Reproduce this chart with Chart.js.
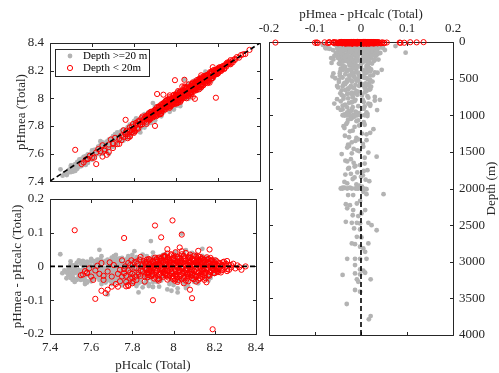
<!DOCTYPE html>
<html>
<head>
<meta charset="utf-8">
<script src="https://cdn.jsdelivr.net/npm/chart.js@4.4.0/dist/chart.umd.min.js"></script>
<style>
body { margin: 0; background: #fff; }
#wrap { position: relative; width: 499px; height: 373px; overflow: hidden; }
canvas { position: absolute; }
</style>
</head>
<body>
<div id="wrap">
  <canvas id="top" width="270" height="195" style="left:0px;top:0px"></canvas>
  <canvas id="bottom" width="270" height="188" style="left:0px;top:185px"></canvas>
  <canvas id="depth" width="249" height="373" style="left:250px;top:0px"></canvas>
</div>
<script>
// samples: [pHcalc, pHmea - pHcalc, depth (m)]
const deepUpper = [
  [8.05,-0.012,25],[8.12,0.008,30],[7.98,-0.031,35],[8.15,0.015,40],[8.02,-0.045,45],[8.08,0.022,50],[7.95,-0.02,55],[8.18,0.004,60],[8.1,-0.038,65],[7.92,0.028,70],
  [8.2,-0.006,75],[8.0,0.012,80],[7.88,-0.052,85],[8.14,0.031,90],[8.06,-0.025,95],[7.97,0.002,100],[8.22,-0.015,105],[7.9,-0.061,110],[8.11,0.035,115],[8.03,-0.008,120],
  [7.86,0.018,125],[8.16,-0.03,130],[7.94,0.03,135],[8.07,-0.048,140],[8.04,0.097,146],[7.89,0.075,55],[7.83,-0.077,73],[8.01,0.042,150],[8.09,-0.018,155],[7.93,0.01,160],
  [8.17,-0.042,165],[7.96,-0.005,170],[8.04,0.025,175],[7.89,-0.035,180],[8.12,0.006,185],[7.82,-0.058,190],[8.0,0.032,195],[8.08,-0.028,200],[7.91,0.015,205],[8.15,-0.01,210],
  [7.84,0.022,215],[8.02,-0.065,220],[7.98,0.02,225],[8.19,-0.022,230],[7.87,-0.04,235],[8.05,0.038,240],[7.95,-0.015,245],[8.1,0.01,250],[7.8,-0.05,62],[8.06,0.048,82],
  [7.97,-0.068,92],[8.14,-0.002,22],[8.01,0.02,28],[7.9,-0.026,33],[8.07,-0.056,38],[8.11,0.03,43],[7.94,-0.042,48],[8.17,0.012,53],[8.03,-0.035,58],[7.86,0.005,68],
  [8.09,0.04,78],[7.99,-0.072,88],[8.13,-0.02,98],[7.92,-0.032,108],[8.04,0.016,118],[8.2,0.02,128],[7.83,-0.045,138],[8.0,-0.055,148],[8.16,0.026,158],[7.96,0.036,168],
  [8.08,-0.008,178],[7.88,0.012,188],[8.12,-0.05,198],[8.02,0.005,208],[7.81,-0.03,218],[8.05,-0.04,228],[7.93,-0.06,238],[8.18,-0.034,248],[7.97,0.028,258],[8.1,-0.024,268],
  [7.85,-0.012,278],[8.03,0.018,288],[7.9,-0.046,298],[8.15,0.004,275],[8.06,-0.064,285],[7.94,0.024,295],[8.0,-0.02,265],[8.11,-0.045,255],[7.87,0.03,245],[8.14,0.052,110],
  [8.02,-0.077,86],[7.68,-0.083,40]
];
const deepMid = [
  [7.47,-0.012,310],[7.5,-0.025,320],[7.52,-0.006,330],[7.48,-0.035,340],[7.55,-0.018,350],[7.53,-0.04,360],[7.58,-0.01,370],[7.6,-0.028,380],[7.62,0.005,390],[7.57,-0.045,400],
  [7.64,-0.02,410],[7.66,0.012,420],[7.9,-0.06,427],[7.68,-0.034,440],[7.7,-0.005,450],[7.72,0.02,460],[7.65,-0.015,470],[7.74,-0.042,480],[7.76,0.008,490],[7.69,-0.025,500],
  [7.78,0.015,510],[7.71,-0.048,520],[7.8,-0.01,530],[7.75,0.025,540],[7.82,-0.032,550],[7.77,-0.002,560],[7.84,0.018,570],[7.79,-0.038,580],[7.86,0.003,590],[7.81,-0.022,600],
  [7.88,0.022,610],[7.83,-0.05,620],[7.9,-0.015,630],[7.85,0.01,640],[7.92,-0.028,650],[7.87,-0.042,660],[7.94,0.012,670],[7.89,-0.006,680],[7.46,-0.02,690],[7.51,-0.014,700],
  [7.54,-0.03,710],[7.49,-0.008,720],[7.56,0.002,730],[7.61,-0.038,740],[7.59,-0.018,750],[7.67,0.016,760],[7.73,-0.028,770],[7.7,-0.052,780],[7.75,-0.012,790],[7.78,0.03,800],
  [7.8,-0.044,810],[7.83,0.006,820],[7.86,-0.026,830],[7.88,-0.058,840],[7.91,0.02,850],[7.93,-0.035,860],[7.64,-0.04,870],[7.69,0.008,880],[7.72,-0.018,890],[7.76,-0.05,900],
  [7.79,0.004,910],[7.82,-0.02,920],[7.85,0.035,930],[7.58,-0.026,940],[7.62,-0.012,950],[7.66,-0.03,960],[7.7,-0.004,970],[7.74,0.014,980],[7.77,-0.036,990],[7.81,-0.016,995],
  [7.6,-0.04,1000],[7.65,-0.032,1000],[7.7,-0.024,1000],[7.75,-0.016,1005],[7.8,-0.008,1000],[7.85,0.0,1005],[7.9,0.008,1000],[7.68,0.014,1010],[7.73,-0.036,1005],[7.78,-0.028,1000],
  [7.5,0.015,335],[7.55,0.012,355],[7.6,0.022,375],[7.65,0.03,415],[7.7,0.026,455],[7.75,-0.056,495],[7.81,0.045,380],[7.85,-0.062,470],[7.9,0.041,790],[7.95,-0.03,540],
  [7.57,-0.052,600],[7.63,0.018,650],[7.67,-0.045,700],[7.71,0.03,750],[7.76,-0.02,820],[7.8,0.02,870],[7.84,-0.04,920],[7.88,-0.01,960],[7.92,0.004,580],[7.45,0.036,420]
];
const deepFill = [
  [7.5,-0.02,22],[7.52,0.004,26],[7.54,-0.034,31],[7.56,-0.01,36],[7.58,0.014,41],[7.6,-0.044,46],[7.62,-0.024,51],[7.64,0.0,56],[7.66,-0.016,61],[7.68,0.02,66],
  [7.7,-0.036,71],[7.72,-0.008,76],[7.74,0.01,81],[7.76,-0.028,86],[7.78,-0.05,91],[7.8,0.002,96],[7.82,-0.018,101],[7.84,0.024,106],[7.86,-0.032,111],[7.88,-0.004,116],
  [7.51,-0.03,121],[7.53,-0.016,127],[7.55,0.008,133],[7.57,-0.04,139],[7.59,-0.022,145],[7.61,0.016,151],[7.63,-0.006,157],[7.65,-0.052,163],[7.67,-0.03,169],[7.69,0.006,175],
  [7.71,-0.014,181],[7.73,0.022,187],[7.75,-0.044,193],[7.77,-0.02,199],[7.79,0.012,205],[7.81,-0.008,211],[7.83,-0.038,217],[7.85,0.016,223],[7.87,-0.024,229],[7.89,0.002,235],
  [7.5,-0.004,255],[7.52,-0.038,265],[7.54,0.018,275],[7.56,-0.026,285],[7.58,-0.048,295],[7.6,0.0,305],[7.62,-0.018,315],[7.64,0.012,325],[7.66,-0.036,335],[7.68,-0.01,345],
  [7.7,0.018,355],[7.72,-0.044,365],[7.74,-0.022,375],[7.76,0.004,385],[7.78,-0.03,395],[7.8,0.014,405],[7.82,-0.012,415],[7.84,-0.046,425],[7.86,0.008,435],[7.88,-0.02,445],
  [7.49,-0.026,455],[7.51,0.002,465],[7.53,-0.016,475],[7.55,-0.04,485],[7.57,0.012,495],[7.59,-0.006,505],[7.61,-0.03,515],[7.63,0.02,525],[7.65,-0.02,535],[7.67,-0.048,545],
  [7.69,-0.002,555],[7.71,0.01,565],[7.73,-0.034,575],[7.75,-0.012,585],[7.77,0.016,595],[7.79,-0.04,605],[7.81,-0.02,615],[7.83,0.008,625],[7.85,-0.028,635],[7.87,0.02,645],
  [7.5,-0.034,655],[7.54,-0.01,672],[7.58,0.008,689],[7.62,-0.022,706],[7.66,-0.042,723],[7.7,0.014,740],[7.74,-0.018,757],[7.78,-0.038,774],[7.82,0.004,791],[7.86,-0.014,808],
  [7.52,-0.02,825],[7.56,0.016,842],[7.6,-0.034,859],[7.64,-0.006,876],[7.68,-0.03,893],[7.72,0.006,910],[7.76,-0.044,927],[7.8,-0.022,944],[7.84,0.012,961],[7.88,-0.03,978],
  [7.9,0.028,24],[7.93,-0.038,34],[7.96,0.024,44],[7.99,-0.044,54],[8.02,0.032,64],[8.05,-0.05,74],[8.08,0.026,84],[8.11,-0.036,94],[8.14,0.018,104],[8.17,-0.03,114],
  [7.92,-0.046,124],[7.95,0.034,134],[7.98,-0.052,144],[8.01,0.026,154],[8.04,-0.04,164],[8.07,0.03,174],[8.1,-0.046,184],[8.13,0.022,194],[8.16,-0.036,204],[8.19,0.014,214]
];
const deepFill2 = [
  [7.49,-0.014,23],[7.53,0.01,29],[7.57,-0.028,34],[7.61,-0.006,39],[7.65,0.018,44],[7.69,-0.042,49],[7.73,-0.016,54],[7.77,0.006,59],[7.81,-0.034,64],[7.85,-0.002,69],
  [7.51,-0.04,74],[7.55,-0.02,79],[7.59,0.002,84],[7.63,-0.032,89],[7.67,0.01,94],[7.71,-0.024,99],[7.75,-0.048,104],[7.79,0.016,109],[7.83,-0.01,114],[7.87,-0.04,119],
  [7.5,0.006,130],[7.54,-0.024,140],[7.58,-0.044,150],[7.62,0.008,160],[7.66,-0.012,170],[7.7,-0.03,180],[7.74,0.024,190],[7.78,-0.008,200],[7.82,0.01,210],[7.86,-0.05,220],
  [7.52,-0.01,240],[7.56,-0.032,260],[7.6,0.014,280],[7.64,-0.024,300],[7.68,-0.04,320],[7.72,0.0,340],[7.76,-0.016,360],[7.8,-0.038,380],[7.84,0.02,400],[7.88,-0.006,420],
  [7.48,-0.018,440],[7.52,-0.046,460],[7.56,0.004,480],[7.6,-0.012,500],[7.64,0.02,520],[7.68,-0.02,540],[7.72,-0.036,560],[7.76,0.012,580],[7.8,-0.004,600],[7.84,-0.024,620]
];
const deepLower = [
  [7.62,-0.02,1040],[7.7,-0.006,1070],[7.66,-0.03,1100],[7.74,0.008,1130],[7.78,-0.014,1160],[7.82,0.027,1190],[7.68,-0.024,1220],[7.72,0.002,1250],[7.76,-0.035,1280],[7.8,-0.01,1310],
  [7.64,0.012,1340],[7.84,-0.02,1370],[7.7,-0.028,1400],[7.74,0.005,1430],[7.6,-0.016,1460],[7.86,-0.004,1490],[7.78,-0.042,1530],[7.72,0.034,1565],[7.66,-0.022,1600],[7.82,-0.03,1630],
  [7.7,0.008,1660],[7.76,-0.012,1690],[7.62,-0.026,1720],[7.8,0.014,1750],[7.68,-0.008,1780],[7.74,-0.034,1810],[7.84,0.0,1840],[7.64,-0.018,1870],[7.78,0.018,1900],[7.72,-0.03,1930],
  [7.66,-0.004,1960],[7.7,-0.04,1990],[7.74,-0.03,2000],[7.78,-0.02,2000],[7.82,-0.012,2000],[7.86,-0.006,2000],[7.76,0.002,2000],[7.8,0.01,2005],[7.68,-0.036,1990],[7.72,0.012,2010],
  [7.63,-0.01,1080],[7.75,-0.038,1150],[7.81,0.02,1240],[7.67,-0.006,1330],[7.79,-0.026,1420],[7.71,0.016,1510],[7.85,-0.014,1700],[7.69,0.004,1820],[7.77,-0.022,1050],[7.83,-0.032,1120],
  [7.65,-0.014,1020],[7.73,-0.028,1060],[7.69,0.006,1095],[7.77,-0.004,1140],[7.61,-0.036,1175],[7.81,-0.018,1210],[7.71,0.012,1260],[7.75,-0.026,1300],[7.67,-0.012,1350],[7.83,0.004,1390],
  [7.63,-0.03,1440],[7.79,-0.008,1480],[7.7,-0.02,1520],[7.76,0.008,1580],[7.66,-0.034,1620],[7.84,-0.016,1650],[7.72,-0.002,1680],[7.78,-0.028,1730],[7.64,0.006,1760],[7.82,-0.022,1800],
  [7.68,-0.014,1850],[7.74,0.01,1880],[7.8,-0.036,1910],[7.7,-0.01,1945],[7.86,0.002,1975],[7.62,-0.024,1990],[7.76,-0.04,2000],[7.72,-0.008,2000],[7.84,0.004,1995],[7.78,-0.044,2000]
];
const deepAbyss = [
  [7.64,0.049,2077],[7.78,-0.028,2090],[7.82,-0.017,2090],[7.74,0.012,2077],[7.86,0.005,2045],
  [7.72,-0.033,2215],[7.8,-0.024,2227],[7.84,-0.009,2205],[7.76,-0.002,2170],[7.88,-0.03,2270],
  [7.73,-0.017,2295],[7.81,0.009,2295],[7.77,0.001,2340],[7.85,-0.018,2365],[7.79,-0.006,2377],
  [7.75,-0.033,2455],[7.83,-0.02,2468],[7.71,-0.009,2468],[7.87,-0.002,2477],[7.78,0.016,2468],
  [7.82,0.023,2500],[7.74,-0.015,2545],[7.86,-0.002,2560],[7.8,0.034,2570],[7.76,-0.009,2660],
  [7.84,0.001,2668],[7.72,-0.02,2750],[7.79,-0.013,2760],[7.83,0.016,2750],[7.77,-0.002,2795],
  [7.85,0.005,2818],[7.81,0.009,2864],[7.73,-0.03,2960],[7.78,-0.013,2960],[7.88,0.012,2960],
  [7.75,-0.002,2960],[7.82,-0.013,3045],[7.86,-0.002,3105],[7.76,0.005,3122],[7.8,-0.04,3180],
  [7.84,-0.013,3160],[7.74,-0.002,3173],[7.79,0.009,3150],[7.83,-0.009,3240],[7.77,0.021,3240],
  [7.85,-0.006,3273],[7.81,-0.013,3386],[7.78,-0.002,3409],[7.82,-0.031,3577],[7.8,0.021,3741],
  [7.84,0.017,3786]
];
const shallowCore = [
  [7.95,0.012,5],[8.02,-0.018,10],[8.08,0.025,2],[7.99,-0.005,15],[8.11,-0.028,8],[7.91,0.004,3],[8.05,0.031,12],[8.14,-0.012,6],[8.0,-0.033,18],[7.97,0.021,9],
  [8.06,0.002,4],[8.17,0.011,11],[7.93,-0.022,7],[8.03,0.015,14],[8.09,-0.035,1],[7.89,0.009,16],[8.12,0.019,5],[8.01,-0.011,13],[7.96,0.028,8],[8.07,-0.024,2],
  [8.19,-0.006,10],[7.98,-0.028,6],[8.04,0.036,3],[8.1,0.006,17],[7.92,-0.014,9],[8.15,-0.021,4],[8.0,0.024,12],[8.06,-0.042,7],[7.94,0.017,15],[8.13,0.028,1],
  [8.02,0.003,11],[7.9,-0.026,5],[8.08,-0.008,14],[8.16,0.004,8],[7.97,-0.039,2],[8.11,0.013,18],[8.03,-0.029,6],[7.99,0.033,10],[8.05,-0.016,3],[8.2,0.008,13],
  [7.87,-0.008,9],[8.09,0.022,4],[8.01,0.042,16],[8.14,-0.031,7],[7.96,-0.02,1],[8.07,0.011,12],[8.18,-0.017,5],[7.93,0.026,15],[8.04,-0.004,8],[8.12,-0.04,2],
  [8.0,0.007,11],[7.95,-0.031,6],[8.1,0.032,14],[8.06,0.016,3],[8.15,0.02,10],[7.88,-0.018,17],[8.02,-0.046,4],[8.08,-0.02,9],[7.98,0.004,13],[8.22,-0.004,7],
  [8.13,-0.002,1],[7.92,0.019,12],[8.05,0.024,5],[8.17,-0.026,15],[7.99,-0.014,8],[8.11,-0.045,3],[8.03,0.01,11],[7.94,-0.006,16],[8.09,0.004,6],[8.24,0.002,10],
  [7.97,0.038,2],[8.01,-0.024,14],[8.15,0.013,7],[8.07,-0.03,12],[7.9,0.014,4],[8.12,0.005,18],[8.04,-0.036,9],[8.19,0.015,1],[7.96,-0.011,13],[8.26,-0.008,6],
  [8.06,0.04,10],[8.0,-0.004,3],[8.1,-0.014,15],[7.93,-0.036,8],[8.16,-0.009,11],[8.02,0.029,5],[7.89,-0.002,16],[8.08,0.035,2],[8.13,-0.036,13],[8.21,0.006,7],
  [8.05,-0.05,12],[7.98,0.015,4],[8.14,0.024,9],[8.03,-0.012,17],[7.91,-0.01,6],[8.09,-0.026,1],[8.18,0.001,14],[8.0,0.018,8],[8.11,0.029,3],[8.28,-0.003,11],
  [7.95,0.03,5],[8.07,0.006,15],[8.23,-0.012,10],[8.02,0.022,2],[8.15,-0.04,7],[7.97,-0.025,13],[8.12,-0.019,4],[8.04,0.045,16],[8.17,0.022,9],[7.92,0.001,6],
  [8.1,0.018,12],[7.99,0.009,1],[8.06,-0.008,14],[8.25,0.006,8],[8.01,-0.038,3],[8.13,0.012,11],[7.94,0.024,5],[8.08,0.013,17],[8.2,-0.02,10],[7.96,0.005,2]
];
const shallowDense = [
  [7.861,-0.004,3],[7.873,-0.018,11],[7.885,0.006,7],[7.897,-0.024,15],[7.909,0.002,1],[7.921,-0.012,9],[7.933,0.016,17],[7.945,-0.027,5],[7.957,0.001,13],[7.969,-0.013,2],
  [7.981,0.019,10],[7.993,-0.021,18],[8.005,0.008,6],[8.017,-0.031,14],[8.029,0.004,0],[8.041,-0.007,8],[8.053,0.021,16],[8.065,-0.024,4],[8.077,0.011,12],[8.089,-0.01,19],
  [8.101,0.016,3],[8.113,-0.017,11],[8.125,0.003,7],[8.137,-0.022,15],[8.149,0.009,1],[8.161,-0.004,9],[8.173,0.01,17],[8.185,-0.012,5],[8.197,0.005,13],[8.209,-0.006,2],
  [7.867,-0.011,6],[7.879,0.003,14],[7.891,-0.029,2],[7.903,0.011,10],[7.915,-0.019,18],[7.927,-0.003,4],[7.939,0.022,12],[7.951,-0.016,0],[7.963,0.009,8],[7.975,-0.033,16],
  [7.987,0.003,5],[7.999,0.025,13],[8.011,-0.014,1],[8.023,0.013,9],[8.035,-0.026,17],[8.047,0.0,3],[8.059,-0.018,11],[8.071,0.018,7],[8.083,-0.03,15],[8.095,0.006,19],
  [8.107,-0.009,6],[8.119,0.014,14],[8.131,-0.014,2],[8.143,0.001,10],[8.155,-0.018,18],[8.167,0.012,4],[8.179,-0.003,12],[8.191,0.008,0],[8.203,-0.011,8],[8.215,0.002,16],
  [7.864,0.008,9],[7.876,-0.026,1],[7.888,-0.008,17],[7.9,0.017,5],[7.912,-0.031,13],[7.924,0.007,3],[7.936,-0.017,11],[7.948,0.012,19],[7.96,-0.022,7],[7.972,0.027,15],
  [7.984,-0.008,0],[7.996,-0.037,8],[8.008,0.017,16],[8.02,-0.004,4],[8.032,0.026,12],[8.044,-0.02,2],[8.056,0.008,10],[8.068,-0.035,18],[8.08,0.002,6],[8.092,0.023,14],
  [8.104,-0.024,9],[8.116,0.005,1],[8.128,0.018,17],[8.14,-0.009,5],[8.152,-0.027,13],[8.164,0.02,3],[8.176,-0.016,11],[8.188,0.0,19],[8.2,0.012,7],[8.212,-0.014,15],
  [7.87,0.014,12],[7.882,-0.01,4],[7.894,0.001,16],[7.906,-0.036,8],[7.918,0.022,0],[7.93,-0.025,14],[7.942,-0.005,6],[7.954,0.028,18],[7.966,-0.028,10],[7.978,0.011,2],
  [7.99,-0.016,13],[8.002,0.032,5],[8.014,-0.023,17],[8.026,-0.011,9],[8.038,0.017,1],[8.05,-0.034,15],[8.062,0.004,7],[8.074,0.026,19],[8.086,-0.016,11],[8.098,-0.038,3],
  [8.11,0.009,12],[8.122,-0.028,4],[8.134,0.022,16],[8.146,-0.013,8],[8.158,0.005,0],[8.17,-0.024,14],[8.182,0.016,6],[8.194,-0.019,18],[8.206,0.0,10],[8.218,0.009,2],
  [7.862,0.012,15],[7.874,-0.032,7],[7.886,0.018,19],[7.898,-0.006,11],[7.91,0.026,3],[7.922,-0.038,13],[7.934,0.005,5],[7.946,-0.009,17],[7.958,0.031,9],[7.97,-0.004,1],
  [7.982,-0.026,16],[7.994,0.012,8],[8.006,-0.042,0],[8.018,0.027,12],[8.03,-0.017,4],[8.042,0.012,18],[8.054,-0.03,10],[8.066,-0.006,2],[8.078,0.029,14],[8.09,-0.022,6],
  [8.102,0.0,15],[8.114,0.024,7],[8.126,-0.035,19],[8.138,0.012,11],[8.15,-0.006,3],[8.162,0.027,13],[8.174,-0.028,5],[8.186,0.019,17],[8.198,-0.02,9],[8.21,0.015,1],
  [7.868,-0.02,18],[7.88,0.022,10],[7.892,-0.014,2],[7.904,-0.002,14],[7.916,0.013,6],[7.928,-0.042,16],[7.94,0.001,8],[7.952,-0.02,0],[7.964,0.018,12],[7.976,-0.015,4],
  [7.988,0.036,19],[8.0,-0.029,11],[8.012,0.002,3],[8.024,-0.04,15],[8.036,0.009,7],[8.048,0.03,17],[8.06,-0.012,9],[8.072,-0.044,1],[8.084,0.014,13],[8.096,-0.003,5],
  [8.108,-0.031,18],[8.12,0.03,10],[8.132,-0.005,2],[8.144,0.019,14],[8.156,-0.035,6],[8.168,-0.008,16],[8.18,0.025,8],[8.192,-0.008,0],[8.204,0.018,12],[8.216,-0.017,4],
  [7.78,-0.012,5],[7.79,0.004,13],[7.8,-0.022,1],[7.81,0.012,9],[7.815,-0.03,17],[7.82,-0.006,3],[7.825,0.008,11],[7.83,-0.018,19],[7.835,0.02,7],[7.84,-0.028,15],
  [7.845,0.0,0],[7.85,-0.014,8],[7.855,0.016,16],[7.79,-0.036,4],[7.805,-0.044,12],[7.795,0.018,2],[7.76,-0.02,10],[7.765,0.0,18],[7.75,-0.03,6],[7.77,-0.046,14],
  [8.22,-0.008,9],[8.225,0.01,1],[8.23,-0.018,17],[8.235,0.004,5],[8.24,-0.01,13],[8.245,0.014,3],[8.25,-0.003,11],[8.255,0.008,19],[8.26,-0.014,7],[8.27,0.004,15]
];
const shallowLow = [
  [7.56,-0.024,5],[7.58,-0.018,10],[7.6,-0.03,3],[7.62,-0.012,12],[7.64,-0.022,8],[7.66,-0.04,15],[7.68,-0.015,2],[7.7,-0.03,11],[7.71,0.004,6],[7.73,-0.022,14],
  [7.74,-0.044,4],[7.76,-0.008,9],[7.77,-0.028,16],[7.78,0.01,1],[7.79,-0.018,13],[7.8,-0.034,7],[7.81,-0.004,10],[7.82,0.014,3],[7.83,-0.024,12],[7.84,-0.012,5],
  [7.85,0.006,15],[7.86,-0.03,8],[7.87,0.02,2],[7.72,-0.052,11],[7.69,0.012,6],[7.63,0.002,14],[7.59,-0.006,4],[7.75,0.018,9],[7.8,-0.05,17],[7.84,0.028,1],
  [7.86,-0.045,13],[7.88,-0.025,7],[7.82,-0.04,10],[7.78,-0.055,3],[7.66,-0.028,12],[7.74,-0.01,5],[7.61,-0.04,16],[7.7,-0.06,8],[7.57,-0.014,2],[7.65,0.01,11]
];
const shallowHigh = [
  [8.28,0.004,4],[8.3,-0.006,9],[8.32,-0.002,14],[8.35,0.0,6],[8.27,-0.01,12],[8.29,0.008,3],[8.24,0.012,15],[8.33,-0.01,1],[8.26,0.016,8],[8.31,0.003,10]
];
const shallowOutliers = [
  [7.52,0.107,3],[7.76,0.084,8],[7.91,0.121,5],[7.94,0.086,12],[7.995,0.136,2],[8.04,0.094,10],[8.03,0.056,7],[7.97,0.051,14],
  [8.12,0.046,4],[8.175,0.05,11],[7.62,-0.096,6],[7.9,-0.1,9],[8.09,-0.094,13],[8.08,-0.069,1],[8.19,-0.186,8],[7.65,-0.072,15],
  [7.67,-0.079,5],[7.68,-0.069,10],[7.77,-0.059,3],[7.78,-0.058,12],[7.73,-0.06,7],[8.16,-0.047,6],[7.55,-0.026,2],[7.58,-0.02,9]
];

const pHRange = [7.4, 8.4];
const diffRange = [-0.2, 0.2];
const depthRange = [0, 4000];
const pHTicks = 0.2, diffTicks = 0.1, depthTicks = 500;
const legendLabels = ['Depth >=20 m', 'Depth < 20m'];

const deep = [...deepUpper, ...deepMid, ...deepFill, ...deepFill2, ...deepLower, ...deepAbyss];
const shallow = [...shallowCore, ...shallowDense, ...shallowLow, ...shallowHigh, ...shallowOutliers];

const FONT = 'Liberation Serif';
const AXIS = '#262626';
const GRAY = '#b3b3b3';
const RED = '#ff0000';
Chart.defaults.font.family = FONT;
Chart.defaults.font.size = 13;
Chart.defaults.color = AXIS;

const fmt = v => String(+v.toFixed(2));

const grayStyle = { pointRadius: 2.4, pointBackgroundColor: GRAY, pointBorderWidth: 0, order: 2, clip: false };
const redStyle = { pointRadius: 2.6, pointBackgroundColor: 'rgba(0,0,0,0)', pointBorderColor: RED, pointBorderWidth: 1.0, order: 1, clip: false };
const dashStyle = { showLine: true, borderColor: '#000', borderWidth: 1.6, borderDash: [5, 3], pointRadius: 0, order: 0 };

// box around the plot with inward ticks on all four sides
const boxTicks = {
  id: 'boxTicks',
  beforeDatasetsDraw(chart) {
    const { ctx, chartArea: a, scales } = chart;
    const L = 3.5;
    const l = Math.round(a.left) + 0.5, r = Math.round(a.right) + 0.5;
    const t = Math.round(a.top) + 0.5, b = Math.round(a.bottom) + 0.5;
    ctx.save();
    ctx.strokeStyle = AXIS;
    ctx.lineWidth = 1;
    ctx.beginPath();
    ctx.rect(l, t, r - l, b - t);
    for (const s of Object.values(scales)) {
      for (const tk of s.ticks) {
        const p = Math.round(s.getPixelForValue(tk.value)) + 0.5;
        if (s.isHorizontal()) {
          ctx.moveTo(p, t); ctx.lineTo(p, t + L);
          ctx.moveTo(p, b); ctx.lineTo(p, b - L);
        } else {
          ctx.moveTo(l, p); ctx.lineTo(l + L, p);
          ctx.moveTo(r, p); ctx.lineTo(r - L, p);
        }
      }
    }
    ctx.stroke();
    ctx.restore();
  }
};

const legendBox = {
  id: 'legendBox',
  afterDraw(chart) {
    const ctx = chart.ctx;
    ctx.save();
    ctx.fillStyle = '#fff';
    ctx.strokeStyle = AXIS;
    ctx.lineWidth = 1;
    ctx.fillRect(55.5, 49.5, 94, 27);
    ctx.strokeRect(55.5, 49.5, 94, 27);
    ctx.beginPath();
    ctx.arc(70, 56, 2.4, 0, Math.PI * 2);
    ctx.fillStyle = GRAY;
    ctx.fill();
    ctx.beginPath();
    ctx.arc(70, 68, 2.6, 0, Math.PI * 2);
    ctx.strokeStyle = RED;
    ctx.lineWidth = 1.0;
    ctx.stroke();
    ctx.fillStyle = '#000';
    ctx.font = '11px "' + FONT + '"';
    ctx.textBaseline = 'middle';
    ctx.fillText(legendLabels[0], 83, 56.5);
    ctx.fillText(legendLabels[1], 83, 68.5);
    ctx.restore();
  }
};

const depthTitle = {
  id: 'depthTitle',
  afterDraw(chart) {
    const ctx = chart.ctx, a = chart.chartArea;
    ctx.save();
    ctx.translate(242, (a.top + a.bottom) / 2);
    ctx.rotate(-Math.PI / 2);
    ctx.fillStyle = AXIS;
    ctx.font = '13px "' + FONT + '"';
    ctx.textAlign = 'center';
    ctx.textBaseline = 'middle';
    ctx.fillText('Depth (m)', 0, 0);
    ctx.restore();
  }
};

const base = {
  responsive: false,
  animation: false,
  devicePixelRatio: 1,
  events: [],
  plugins: { legend: { display: false }, tooltip: { enabled: false } }
};
const noGrid = { display: false, drawTicks: false };

// pHmea vs pHcalc
new Chart(document.getElementById('top'), {
  type: 'scatter',
  data: {
    datasets: [
      { data: deep.map(p => ({ x: p[0], y: +(p[0] + p[1]).toFixed(4) })), ...grayStyle },
      { data: shallow.map(p => ({ x: p[0], y: +(p[0] + p[1]).toFixed(4) })), ...redStyle },
      { data: [{ x: pHRange[0], y: pHRange[0] }, { x: pHRange[1], y: pHRange[1] }], ...dashStyle }
    ]
  },
  options: {
    ...base,
    layout: { padding: { top: 43, right: 10, bottom: 12, left: 0 } },
    scales: {
      x: {
        min: pHRange[0], max: pHRange[1],
        grid: noGrid, border: { display: false },
        ticks: { stepSize: pHTicks, display: false },
        afterFit: s => { s.height = 0; }
      },
      y: {
        min: pHRange[0], max: pHRange[1],
        grid: noGrid, border: { display: false },
        ticks: { stepSize: pHTicks, padding: 6, autoSkip: false, callback: fmt },
        title: { display: true, text: 'pHmea (Total)', padding: { top: 14, bottom: 0 } },
        afterFit: s => { s.width = 50; }
      }
    }
  },
  plugins: [boxTicks, legendBox]
});

// residual vs pHcalc
new Chart(document.getElementById('bottom'), {
  type: 'scatter',
  data: {
    datasets: [
      { data: deep.map(p => ({ x: p[0], y: p[1] })), ...grayStyle },
      { data: shallow.map(p => ({ x: p[0], y: p[1] })), ...redStyle },
      { data: [{ x: pHRange[0], y: 0 }, { x: pHRange[1], y: 0 }], ...dashStyle }
    ]
  },
  options: {
    ...base,
    layout: { padding: { top: 10, right: 10, bottom: 0, left: 0 } },
    scales: {
      x: {
        min: pHRange[0], max: pHRange[1],
        grid: noGrid, border: { display: false },
        ticks: { stepSize: pHTicks, padding: 6, autoSkip: false, maxRotation: 0, callback: fmt },
        title: { display: true, text: 'pHcalc (Total)', padding: { top: 0, bottom: 0 } },
        afterFit: s => { s.height = 39; }
      },
      y: {
        min: diffRange[0], max: diffRange[1],
        grid: noGrid, border: { display: false },
        ticks: { stepSize: diffTicks, padding: 6, autoSkip: false, callback: fmt },
        title: { display: true, text: 'pHmea - pHcalc (Total)', padding: { top: 10, bottom: 0 } },
        afterFit: s => { s.width = 50; }
      }
    }
  },
  plugins: [boxTicks]
});

// residual vs depth
new Chart(document.getElementById('depth'), {
  type: 'scatter',
  data: {
    datasets: [
      { data: deep.map(p => ({ x: p[1], y: p[2] })), ...grayStyle },
      { data: shallow.map(p => ({ x: p[1], y: p[2] })), ...redStyle },
      { data: [{ x: 0, y: depthRange[0] }, { x: 0, y: depthRange[1] }], ...dashStyle }
    ]
  },
  options: {
    ...base,
    layout: { padding: { top: 0, right: 0, bottom: 38, left: 19 } },
    scales: {
      x: {
        position: 'top',
        min: diffRange[0], max: diffRange[1],
        grid: noGrid, border: { display: false },
        ticks: { stepSize: diffTicks, padding: 6, autoSkip: false, maxRotation: 0, callback: fmt },
        title: { display: true, text: 'pHmea - pHcalc (Total)', padding: { top: 7, bottom: 0 } },
        afterFit: s => { s.height = 42; }
      },
      y: {
        position: 'right',
        reverse: true,
        min: depthRange[0], max: depthRange[1],
        grid: noGrid, border: { display: false },
        ticks: { stepSize: depthTicks, padding: 6, autoSkip: false, callback: fmt },
        afterFit: s => { s.width = 46; }
      }
    }
  },
  plugins: [boxTicks, depthTitle]
});
</script>
</body>
</html>
